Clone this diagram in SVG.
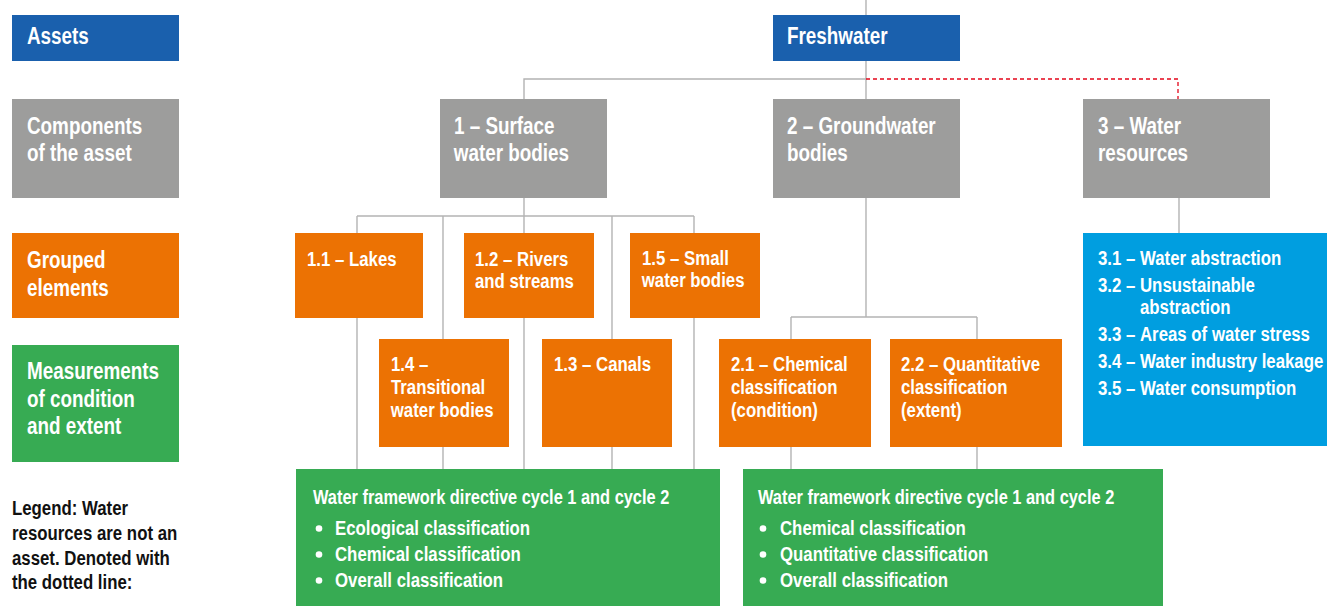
<svg xmlns="http://www.w3.org/2000/svg" width="1327" height="606" viewBox="0 0 1327 606">
  <style>
    text { font-family: "Liberation Sans", Arial, sans-serif; font-weight: bold; fill: #ffffff; transform-box: fill-box; transform-origin: 0 0; transform: scaleX(0.82); }
    .big { font-size: 23px; }
    .mid { font-size: 20.5px; }
    .ttl { font-size: 20px; }
    .leg { font-size: 20.5px; fill: #111111; }
    .blue { fill: #1a60ad; }
    .grey { fill: #9d9d9c; }
    .orange { fill: #ec7203; }
    .green { fill: #37ab53; }
    .cyan { fill: #009ee0; }
    .conn { stroke: #b3b3b3; stroke-width: 1.4; fill: none; }
    .dash { stroke: #e3061a; stroke-width: 1.3; stroke-dasharray: 4 3; fill: none; }
    .dot { fill: #ffffff; }
  </style>

  <g id="connectors">
    <line class="conn" x1="866" y1="0" x2="866" y2="99"/>
    <path class="conn" d="M524,99 V79 H866"/>
    <path class="dash" d="M866,79 H1178 V99"/>
    <line class="conn" x1="524" y1="198" x2="524" y2="216"/>
    <line class="conn" x1="357" y1="216" x2="694" y2="216"/>
    <line class="conn" x1="357" y1="216" x2="357" y2="469"/>
    <line class="conn" x1="443" y1="216" x2="443" y2="469"/>
    <line class="conn" x1="524" y1="216" x2="524" y2="469"/>
    <line class="conn" x1="612" y1="216" x2="612" y2="469"/>
    <line class="conn" x1="694" y1="216" x2="694" y2="469"/>
    <line class="conn" x1="866" y1="198" x2="866" y2="317"/>
    <line class="conn" x1="791" y1="317" x2="977" y2="317"/>
    <line class="conn" x1="791" y1="317" x2="791" y2="469"/>
    <line class="conn" x1="977" y1="317" x2="977" y2="469"/>
    <line class="conn" x1="1179" y1="198" x2="1179" y2="233"/>
  </g>

  <g id="label-assets">
    <rect class="blue" x="12" y="15" width="167" height="46"/>
    <text class="big" x="27" y="44">Assets</text>
  </g>
  <g id="label-components">
    <rect class="grey" x="12" y="99" width="167" height="99"/>
    <text class="big" x="27" y="134">Components</text>
    <text class="big" x="27" y="161">of the asset</text>
  </g>
  <g id="label-grouped">
    <rect class="orange" x="12" y="233" width="167" height="85"/>
    <text class="big" x="27" y="268">Grouped</text>
    <text class="big" x="27" y="296">elements</text>
  </g>
  <g id="label-measurements">
    <rect class="green" x="12" y="345" width="167" height="117"/>
    <text class="big" x="27" y="379">Measurements</text>
    <text class="big" x="27" y="407">of condition</text>
    <text class="big" x="27" y="434">and extent</text>
  </g>
  <g id="legend">
    <text class="leg" x="12" y="515">Legend: Water</text>
    <text class="leg" x="12" y="540">resources are not an</text>
    <text class="leg" x="12" y="565">asset. Denoted with</text>
    <text class="leg" x="12" y="589">the dotted line:</text>
  </g>

  <g id="freshwater">
    <rect class="blue" x="773" y="15" width="187" height="46"/>
    <text class="big" x="787" y="44">Freshwater</text>
  </g>
  <g id="surface">
    <rect class="grey" x="440" y="99" width="167" height="99"/>
    <text class="big" x="454" y="134">1 – Surface</text>
    <text class="big" x="454" y="161">water bodies</text>
  </g>
  <g id="groundwater">
    <rect class="grey" x="773" y="99" width="187" height="99"/>
    <text class="big" x="787" y="134">2 – Groundwater</text>
    <text class="big" x="787" y="161">bodies</text>
  </g>
  <g id="water-resources">
    <rect class="grey" x="1083" y="99" width="187" height="99"/>
    <text class="big" x="1098" y="134">3 – Water</text>
    <text class="big" x="1098" y="161">resources</text>
  </g>

  <g id="lakes">
    <rect class="orange" x="295" y="233" width="128" height="85"/>
    <text class="mid" x="307" y="266">1.1 – Lakes</text>
  </g>
  <g id="rivers">
    <rect class="orange" x="464" y="233" width="130" height="85"/>
    <text class="mid" x="475" y="266">1.2 – Rivers</text>
    <text class="mid" x="475" y="288">and streams</text>
  </g>
  <g id="small">
    <rect class="orange" x="630" y="233" width="130" height="85"/>
    <text class="mid" x="642" y="265">1.5 – Small</text>
    <text class="mid" x="642" y="287">water bodies</text>
  </g>
  <g id="transitional">
    <rect class="orange" x="379" y="339" width="130" height="108"/>
    <text class="mid" x="391" y="371">1.4 –</text>
    <text class="mid" x="391" y="394">Transitional</text>
    <text class="mid" x="391" y="417">water bodies</text>
  </g>
  <g id="canals">
    <rect class="orange" x="542" y="339" width="130" height="108"/>
    <text class="mid" x="554" y="371">1.3 – Canals</text>
  </g>
  <g id="chemical">
    <rect class="orange" x="719" y="339" width="152" height="108"/>
    <text class="mid" x="731" y="371">2.1 – Chemical</text>
    <text class="mid" x="731" y="394">classification</text>
    <text class="mid" x="731" y="417">(condition)</text>
  </g>
  <g id="quantitative">
    <rect class="orange" x="890" y="339" width="172" height="108"/>
    <text class="mid" x="901" y="371">2.2 – Quantitative</text>
    <text class="mid" x="901" y="394">classification</text>
    <text class="mid" x="901" y="417">(extent)</text>
  </g>

  <g id="resources-list">
    <rect class="cyan" x="1083" y="233" width="244" height="213"/>
    <text class="mid" x="1098" y="265">3.1 –</text>
    <text class="mid" x="1140" y="265">Water abstraction</text>
    <text class="mid" x="1098" y="292">3.2 –</text>
    <text class="mid" x="1140" y="292">Unsustainable</text>
    <text class="mid" x="1140" y="314">abstraction</text>
    <text class="mid" x="1098" y="341">3.3 –</text>
    <text class="mid" x="1140" y="341">Areas of water stress</text>
    <text class="mid" x="1098" y="368">3.4 –</text>
    <text class="mid" x="1140" y="368">Water industry leakage</text>
    <text class="mid" x="1098" y="395">3.5 –</text>
    <text class="mid" x="1140" y="395">Water consumption</text>
  </g>

  <g id="wfd-surface">
    <rect class="green" x="296" y="469" width="424" height="137"/>
    <text class="ttl" x="313" y="504">Water framework directive cycle 1 and cycle 2</text>
    <circle class="dot" cx="319" cy="528.5" r="3.3"/>
    <text class="mid" x="335" y="535">Ecological classification</text>
    <circle class="dot" cx="319" cy="554.5" r="3.3"/>
    <text class="mid" x="335" y="561">Chemical classification</text>
    <circle class="dot" cx="319" cy="580.5" r="3.3"/>
    <text class="mid" x="335" y="587">Overall classification</text>
  </g>
  <g id="wfd-ground">
    <rect class="green" x="743" y="469" width="420" height="137"/>
    <text class="ttl" x="758" y="504">Water framework directive cycle 1 and cycle 2</text>
    <circle class="dot" cx="763" cy="528.5" r="3.3"/>
    <text class="mid" x="780" y="535">Chemical classification</text>
    <circle class="dot" cx="763" cy="554.5" r="3.3"/>
    <text class="mid" x="780" y="561">Quantitative classification</text>
    <circle class="dot" cx="763" cy="580.5" r="3.3"/>
    <text class="mid" x="780" y="587">Overall classification</text>
  </g>
</svg>
